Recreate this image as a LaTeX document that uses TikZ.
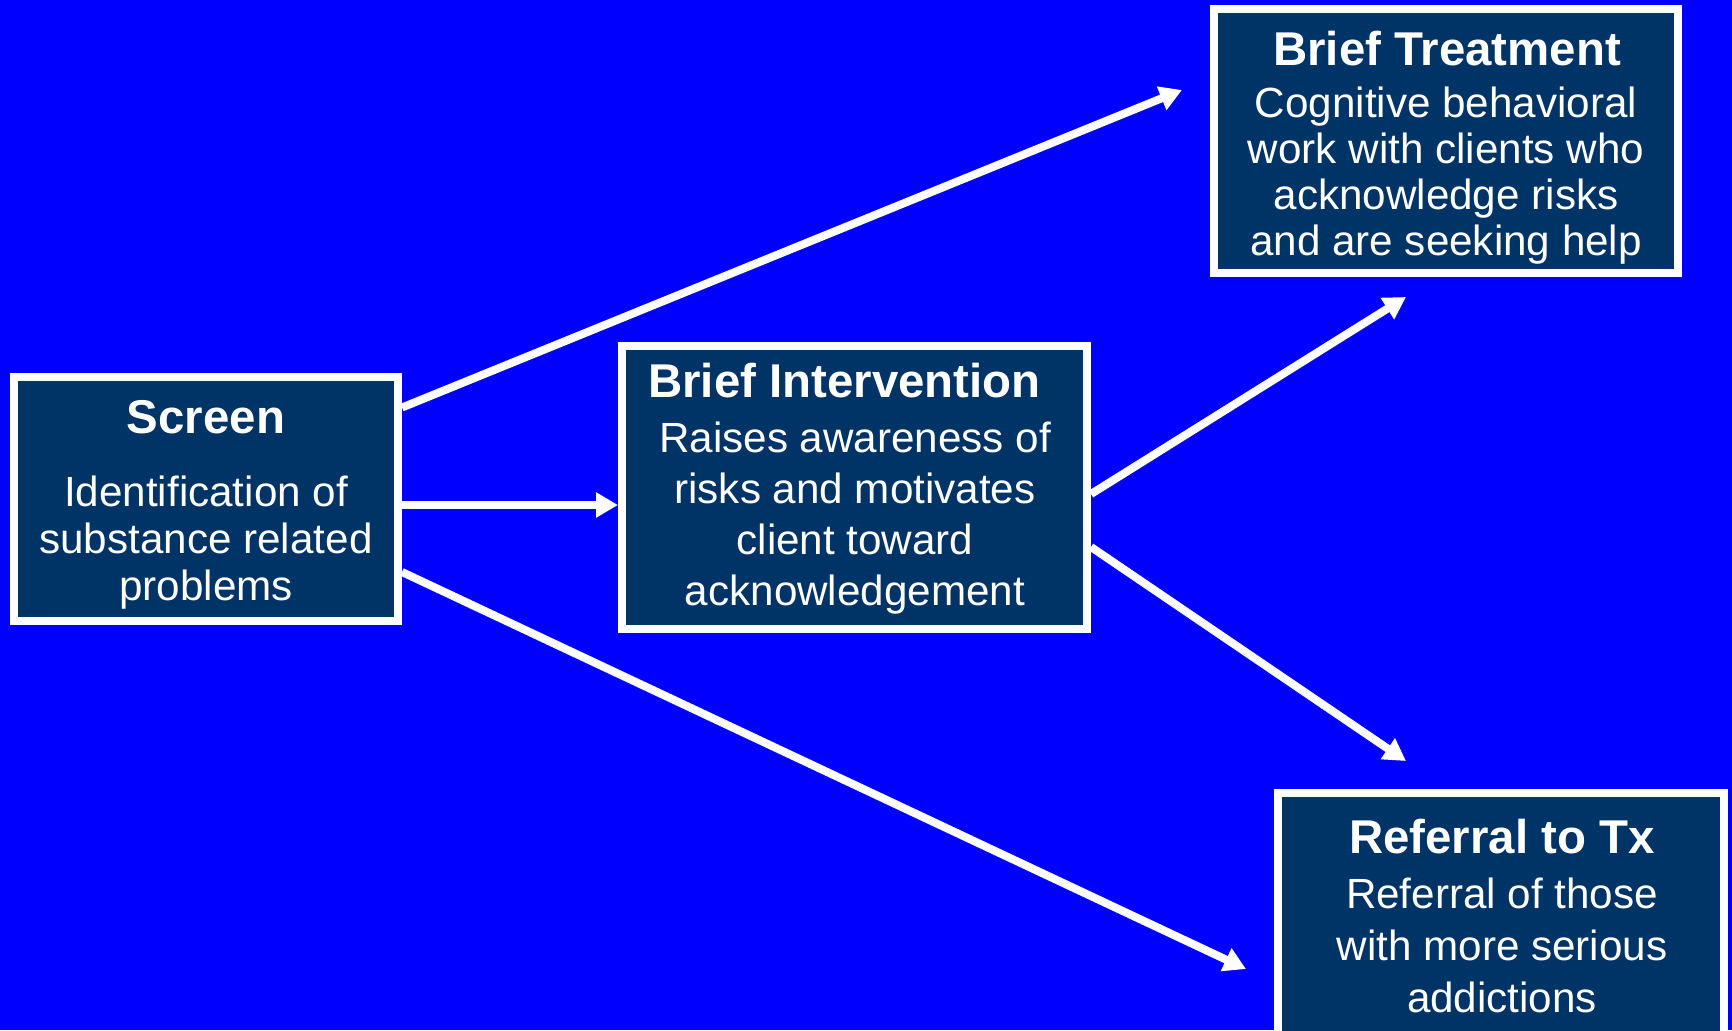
\documentclass[tikz,border=0pt]{standalone}
\usepackage{fontspec}
\setmainfont{Liberation Sans}
\usetikzlibrary{arrows.meta}
\definecolor{bgblue}{RGB}{0,0,255}
\definecolor{navy}{RGB}{0,51,102}
\begin{document}
\begin{tikzpicture}[x=0.5pt,y=-0.5pt,
  box/.style={draw=white, fill=navy, line width=4pt, inner sep=0pt, rectangle},
  ttl/.style={text=white, font=\fontsize{23.7}{27}\selectfont\bfseries, anchor=base, inner sep=0pt},
  body/.style={text=white, align=center, anchor=base, inner sep=0pt, font=\fontsize{21.1}{#1}\selectfont},
  arr/.style={draw=white, line width=4pt, -{Triangle[length=11pt,width=12pt]}}]
\useasboundingbox (0,0) rectangle (1732,1030);
\fill[bgblue] (0,0) rectangle (1732,1030);

% boxes
\node[box, minimum width=192pt, minimum height=122pt] (screen) at (206,499) {};
\node[box, minimum width=232pt, minimum height=132pt] (bt) at (1446,141) {};
\node[box, minimum width=232.5pt, minimum height=141.5pt] (bi) at (854.5,487.5) {};
\node[box, minimum width=223pt, minimum height=123pt] (ref) at (1501,916) {};

% texts (body nodes anchored at the baseline of their last line)
\node[ttl] (screenT) at (206,433) {Screen};
\node[body=23.5pt] (screenB) at (206,600) {Identification of\\substance related\\problems};
\node[ttl] (biT) at (844.5,397) {Brief Intervention};
\node[body=25.5pt] (biB) at (855,605) {Raises awareness of\\risks and motivates\\client toward\\acknowledgement};
\node[ttl] (btT) at (1447,65) {Brief Treatment};
\node[body=23pt] (btB) at (1446,255) {Cognitive behavioral\\work with clients who\\acknowledge risks\\and are seeking help};
\node[ttl] (refT) at (1502,853) {Referral to Tx};
\node[body=26pt] (refB) at (1502,1012) {Referral of those\\with more serious\\addictions};

% arrow ends
\coordinate (s1) at ([yshift=45.75pt]screen.east);
\coordinate (s2) at ([yshift=-3pt]screen.east);
\coordinate (s3) at ([yshift=-36.5pt]screen.east);
\coordinate (b1) at ([yshift=-3.25pt]bi.east);
\coordinate (b2) at ([yshift=-29.75pt]bi.east);
\coordinate (t1) at (1182,90);
\coordinate (t2) at (1406,297);
\coordinate (t3) at (1406,761);
\coordinate (t4) at (1246,969);

\draw[arr] (s1) -- (t1);
\draw[arr] (s2) -- (s2 -| bi.west);
\draw[arr] (s3) -- (t4);
\draw[arr] (b1) -- (t2);
\draw[arr] (b2) -- (t3);
\end{tikzpicture}
\end{document}
